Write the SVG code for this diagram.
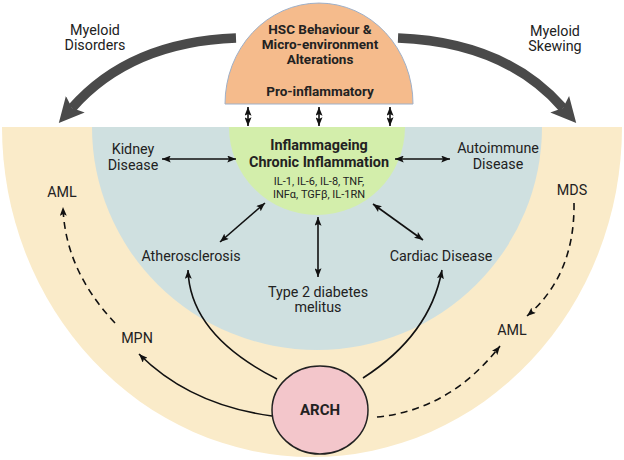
<svg xmlns="http://www.w3.org/2000/svg" width="624" height="460" viewBox="0 0 624 460">
<style>
text{font-family:Roboto,"Liberation Sans",sans-serif;fill:#222;text-anchor:middle}
.t{font-size:14.3px}
.b{font-weight:bold;font-size:13.5px}
.g{font-weight:bold;font-size:14.4px}
.a{font-weight:bold;font-size:15px}
.s{font-size:11px}
.ln{fill:none;stroke:#111;stroke-width:1.6}
.da{stroke-dasharray:7 5}
.big{fill:none;stroke:#4a4a4a;stroke-width:9.5}
</style>
<defs>
<marker id="ah" viewBox="0 0 10 8" refX="10" refY="4" markerWidth="9" markerHeight="7" markerUnits="userSpaceOnUse" orient="auto-start-reverse">
<path d="M0,0 L10,4 L0,8 L2,4 z" fill="#111"/>
</marker>
<marker id="bh" viewBox="0 0 10 10" refX="2" refY="5" markerWidth="25" markerHeight="25" markerUnits="userSpaceOnUse" orient="auto">
<path d="M0,0 L10,5 L0,10 L2,5 z" fill="#4a4a4a"/>
</marker>
</defs>
<g id="outer-ring"><path d="M2,127 A310,330 0 0 0 622,127 Z" fill="#faebc9"/></g>
<g id="inner-region"><path d="M92,127 A225,223 0 0 0 542,127 Z" fill="#cfe0e0"/></g>
<g id="inflammageing">
<path d="M229,127 A88,88 0 0 0 405,127 Z" fill="#d3eeab"/>
<text class="g" x="319" y="149.5">Inflammageing</text>
<text class="g" x="319" y="166.5">Chronic Inflammation</text>
<text class="s" x="319" y="185">IL-1, IL-6, IL-8, TNF,</text>
<text class="s" x="319" y="198">INFα, TGFβ, IL-1RN</text>
</g>
<g id="hsc">
<path d="M225,104 A94,101 0 0 1 413,104 Z" fill="#f5bb8c" stroke="#9fb0c8" stroke-width="1"/>
<text class="b" x="320" y="34">HSC Behaviour &amp;</text>
<text class="b" x="320" y="49">Micro-environment</text>
<text class="b" x="320" y="64">Alterations</text>
<text class="b" x="320" y="96">Pro-inflammatory</text>
</g>
<g id="arch">
<ellipse cx="320" cy="410" rx="48" ry="44" fill="#f3c6cb" stroke="#222" stroke-width="1.5"/>
<text class="a" x="320" y="415">ARCH</text>
</g>
<g id="labels">
<text class="t" x="95" y="35">Myeloid</text>
<text class="t" x="95" y="50">Disorders</text>
<text class="t" x="555" y="36">Myeloid</text>
<text class="t" x="555" y="51">Skewing</text>
<text class="t" x="133" y="154">Kidney</text>
<text class="t" x="133" y="170">Disease</text>
<text class="t" x="498" y="153">Autoimmune</text>
<text class="t" x="498" y="169">Disease</text>
<text class="t" x="62" y="197">AML</text>
<text class="t" x="572" y="195">MDS</text>
<text class="t" x="191" y="261">Atherosclerosis</text>
<text class="t" x="441" y="261">Cardiac Disease</text>
<text class="t" x="318" y="297">Type 2 diabetes</text>
<text class="t" x="318" y="312">melitus</text>
<text class="t" x="137" y="343">MPN</text>
<text class="t" x="512" y="335">AML</text>
</g>
<g id="connectors">
<path class="big" d="M236,38 Q130,42 72,108" marker-end="url(#bh)"/>
<path class="big" d="M398,38 Q505,42 563,108" marker-end="url(#bh)"/>
<path class="ln" d="M248,107 L248,126" marker-start="url(#ah)" marker-end="url(#ah)"/>
<path class="ln" d="M319,107 L319,126" marker-start="url(#ah)" marker-end="url(#ah)"/>
<path class="ln" d="M390,107 L390,126" marker-start="url(#ah)" marker-end="url(#ah)"/>
<path class="ln" d="M236,159 L162,159" marker-start="url(#ah)" marker-end="url(#ah)"/>
<path class="ln" d="M395,159 L450,159" marker-start="url(#ah)" marker-end="url(#ah)"/>
<path class="ln" d="M265,203 L220,242" marker-start="url(#ah)" marker-end="url(#ah)"/>
<path class="ln" d="M373,204 L423,240" marker-start="url(#ah)" marker-end="url(#ah)"/>
<path class="ln" d="M318,217 L318,277" marker-start="url(#ah)" marker-end="url(#ah)"/>
<path class="ln" d="M272,416 Q190,405 139,354" marker-end="url(#ah)"/>
<path class="ln" d="M277,379 Q190,335 188,270" marker-end="url(#ah)"/>
<path class="ln" d="M363,378 Q430,335 442,270" marker-end="url(#ah)"/>
<path class="ln da" d="M377,417 Q450,410 500,346" marker-end="url(#ah)"/>
<path class="ln da" d="M115,323 Q65,270 63,207" marker-end="url(#ah)"/>
<path class="ln da" d="M574,203 Q575,275 527,316" marker-end="url(#ah)"/>
</g>
</svg>
